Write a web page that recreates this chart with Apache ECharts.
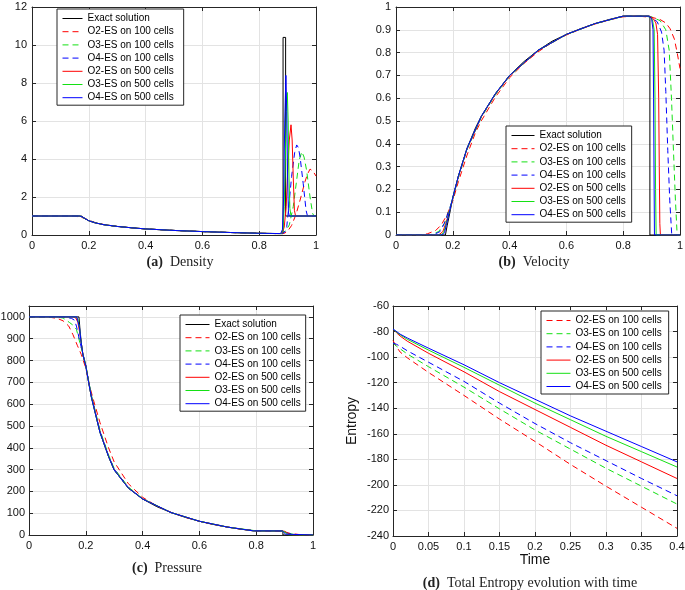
<!DOCTYPE html>
<html><head><meta charset="utf-8">
<script src="https://cdn.jsdelivr.net/npm/echarts@6/dist/echarts.min.js"></script>
<style>html,body{margin:0;padding:0;background:#fff}#main{width:685px;height:590px}</style>
</head><body><div id="main"></div>
<script>
// ---------- legend names ----------
const seriesNames = ['Exact solution','O2-ES on 100 cells','O3-ES on 100 cells','O4-ES on 100 cells','O2-ES on 500 cells','O3-ES on 500 cells','O4-ES on 500 cells'];
const entropyNames = seriesNames.slice(1);

// ---------- (a) Density ----------
const densExact = [[0,1],[0.174,1],[0.18,0.93],[0.19,0.83],[0.2,0.75],[0.22,0.65],[0.25,0.55],[0.3,0.45],[0.35,0.38],[0.4,0.32],[0.5,0.24],[0.6,0.18],[0.7,0.13],[0.8,0.09],[0.884,0.07],[0.884,10.4],[0.893,10.4],[0.893,1],[1,1]];
const densO2_100 = [[0,1],[0.13,1],[0.15,0.99],[0.17,0.95],[0.19,0.85],[0.2,0.78],[0.22,0.67],[0.25,0.56],[0.3,0.45],[0.35,0.38],[0.4,0.32],[0.5,0.24],[0.6,0.18],[0.7,0.13],[0.8,0.09],[0.86,0.075],[0.88,0.08],[0.89,0.1],[0.9,0.2],[0.914,0.5],[0.93,1.1],[0.944,1.84],[0.961,2.8],[0.97,3.2],[0.979,3.47],[0.99,3.35],[1,3.1]];
const densO3_100 = [[0,1],[0.14,1],[0.16,0.99],[0.175,0.94],[0.19,0.84],[0.2,0.77],[0.22,0.66],[0.25,0.55],[0.3,0.45],[0.35,0.38],[0.4,0.32],[0.5,0.24],[0.6,0.18],[0.7,0.13],[0.8,0.09],[0.86,0.075],[0.88,0.08],[0.895,0.25],[0.906,0.53],[0.92,1.5],[0.932,2.9],[0.941,3.95],[0.95,4.38],[0.958,4.1],[0.967,3.4],[0.979,2.0],[0.988,1.14],[0.993,1.0],[1,1]];
const densO4_100 = [[0,1],[0.145,1],[0.165,0.99],[0.177,0.94],[0.19,0.84],[0.2,0.76],[0.22,0.66],[0.25,0.55],[0.3,0.45],[0.35,0.38],[0.4,0.32],[0.5,0.24],[0.6,0.18],[0.7,0.13],[0.8,0.09],[0.86,0.075],[0.88,0.08],[0.89,0.15],[0.897,0.44],[0.903,1.3],[0.914,3.07],[0.925,4.35],[0.932,4.74],[0.938,4.6],[0.944,4.1],[0.955,2.7],[0.965,1.3],[0.97,1.0],[1,1]];
const densO2_500 = [[0,1],[0.16,1],[0.17,0.98],[0.18,0.92],[0.19,0.83],[0.2,0.75],[0.22,0.65],[0.25,0.55],[0.3,0.45],[0.35,0.38],[0.4,0.32],[0.5,0.24],[0.6,0.18],[0.7,0.13],[0.8,0.09],[0.87,0.075],[0.88,0.1],[0.888,0.4],[0.895,1.5],[0.9,3.2],[0.906,5.0],[0.912,5.8],[0.916,5.0],[0.92,3.0],[0.924,1.3],[0.928,1.0],[1,1]];
const densO3_500 = [[0,1],[0.165,1],[0.173,0.98],[0.18,0.92],[0.19,0.83],[0.2,0.75],[0.22,0.65],[0.25,0.55],[0.3,0.45],[0.35,0.38],[0.4,0.32],[0.5,0.24],[0.6,0.18],[0.7,0.13],[0.8,0.09],[0.878,0.075],[0.884,0.3],[0.888,1.5],[0.892,4.0],[0.896,6.8],[0.899,7.5],[0.902,6.0],[0.905,3.0],[0.908,1.4],[0.912,1.0],[1,1]];
const densO4_500 = [[0,1],[0.168,1],[0.175,0.98],[0.18,0.93],[0.19,0.83],[0.2,0.75],[0.22,0.65],[0.25,0.55],[0.3,0.45],[0.35,0.38],[0.4,0.32],[0.5,0.24],[0.6,0.18],[0.7,0.13],[0.8,0.09],[0.876,0.075],[0.882,0.3],[0.886,2.0],[0.89,6.0],[0.894,8.4],[0.897,6.5],[0.9,3.0],[0.903,1.2],[0.906,1.0],[1,1]];

// ---------- (b) Velocity ----------
const velExact = [[0,0],[0.174,0],[0.18,0.04],[0.19,0.1],[0.2,0.165],[0.22,0.26],[0.25,0.38],[0.28,0.47],[0.3,0.52],[0.35,0.62],[0.4,0.70],[0.45,0.76],[0.5,0.81],[0.55,0.85],[0.6,0.88],[0.65,0.905],[0.7,0.927],[0.75,0.945],[0.8,0.96],[0.894,0.96],[0.894,0],[1,0]];
const velO2_100 = [[0,0],[0.08,0],[0.11,0.005],[0.14,0.02],[0.16,0.045],[0.18,0.09],[0.2,0.15],[0.22,0.235],[0.25,0.35],[0.28,0.45],[0.3,0.5],[0.35,0.605],[0.4,0.69],[0.45,0.752],[0.5,0.803],[0.55,0.845],[0.6,0.877],[0.65,0.903],[0.7,0.925],[0.75,0.943],[0.8,0.957],[0.85,0.96],[0.9,0.955],[0.93,0.945],[0.95,0.93],[0.965,0.905],[0.98,0.86],[0.99,0.8],[1,0.73]];
const velO3_100 = [[0,0],[0.12,0],[0.15,0.015],[0.17,0.05],[0.19,0.12],[0.2,0.16],[0.22,0.255],[0.25,0.375],[0.3,0.515],[0.35,0.615],[0.4,0.697],[0.5,0.808],[0.6,0.879],[0.7,0.926],[0.8,0.959],[0.86,0.96],[0.9,0.957],[0.93,0.94],[0.95,0.9],[0.962,0.81],[0.97,0.6],[0.977,0.37],[0.984,0.15],[0.99,0],[1,0]];
const velO4_100 = [[0,0],[0.13,0],[0.155,0.015],[0.17,0.05],[0.19,0.12],[0.2,0.16],[0.22,0.258],[0.25,0.378],[0.3,0.518],[0.35,0.618],[0.4,0.699],[0.5,0.809],[0.6,0.88],[0.7,0.927],[0.8,0.96],[0.88,0.96],[0.9,0.955],[0.92,0.935],[0.935,0.89],[0.944,0.81],[0.95,0.63],[0.957,0.37],[0.964,0.15],[0.971,0],[1,0]];
const velO2_500 = [[0,0],[0.15,0],[0.165,0.015],[0.175,0.05],[0.19,0.11],[0.2,0.16],[0.22,0.258],[0.25,0.378],[0.3,0.518],[0.35,0.618],[0.4,0.699],[0.5,0.809],[0.6,0.88],[0.7,0.927],[0.8,0.96],[0.89,0.96],[0.905,0.95],[0.915,0.93],[0.921,0.88],[0.925,0.6],[0.927,0.3],[0.929,0.05],[0.931,0],[1,0]];
const velO3_500 = [[0,0],[0.158,0],[0.168,0.012],[0.177,0.05],[0.19,0.11],[0.2,0.163],[0.22,0.259],[0.25,0.379],[0.3,0.519],[0.35,0.619],[0.4,0.7],[0.5,0.81],[0.6,0.88],[0.7,0.927],[0.8,0.96],[0.89,0.96],[0.903,0.945],[0.909,0.9],[0.912,0.6],[0.914,0.2],[0.916,0],[1,0]];
const velO4_500 = [[0,0],[0.163,0],[0.171,0.01],[0.178,0.05],[0.19,0.11],[0.2,0.165],[0.22,0.26],[0.25,0.38],[0.3,0.52],[0.35,0.62],[0.4,0.7],[0.5,0.81],[0.6,0.88],[0.7,0.927],[0.8,0.96],[0.89,0.96],[0.9,0.95],[0.905,0.9],[0.907,0.6],[0.909,0.2],[0.91,0],[1,0]];

// ---------- (c) Pressure ----------
const presExact = [[0,1000],[0.176,1000],[0.18,935],[0.185,872],[0.19,825],[0.2,775],[0.21,700],[0.22,630],[0.25,470],[0.28,360],[0.3,298],[0.35,215],[0.4,165],[0.45,130],[0.5,103],[0.55,81],[0.6,63],[0.65,48],[0.7,36],[0.75,26],[0.79,19],[0.894,18.6],[0.894,0.01],[1,0.01]];
const presO2_100 = [[0,1000],[0.06,999],[0.08,997],[0.1,993],[0.12,982],[0.14,958],[0.155,918],[0.17,870],[0.184,828],[0.2,765],[0.214,680],[0.23,605],[0.25,515],[0.28,400],[0.3,335],[0.35,235],[0.4,173],[0.45,133],[0.5,104],[0.55,81],[0.6,63],[0.65,48],[0.7,36],[0.75,26],[0.8,19.5],[0.85,18.5],[0.88,17],[0.9,13],[0.92,7],[0.95,2.5],[0.98,0.8],[1,0.3]];
const presO3_100 = [[0,1000],[0.1,999],[0.12,995],[0.143,974],[0.155,962],[0.167,943],[0.179,882],[0.19,830],[0.2,780],[0.21,708],[0.22,640],[0.25,480],[0.28,368],[0.3,305],[0.35,220],[0.4,167],[0.5,103],[0.6,63],[0.7,36],[0.8,19.2],[0.87,18.5],[0.89,17],[0.91,10],[0.93,3],[0.95,0.5],[1,0.01]];
const presO4_100 = [[0,1000],[0.13,999],[0.15,993],[0.16,985],[0.167,958],[0.176,905],[0.185,855],[0.2,778],[0.21,704],[0.22,635],[0.25,475],[0.28,364],[0.3,302],[0.35,218],[0.4,166],[0.5,103],[0.6,63],[0.7,36],[0.8,19],[0.88,18.5],[0.9,15],[0.915,7],[0.93,1.5],[0.95,0.1],[1,0.01]];
const presO2_500 = [[0,1000],[0.155,1000],[0.165,995],[0.172,975],[0.178,932],[0.185,872],[0.19,826],[0.2,776],[0.21,701],[0.22,632],[0.25,472],[0.28,361],[0.3,299],[0.35,216],[0.4,165],[0.5,103],[0.6,63],[0.7,36],[0.79,19],[0.89,18.6],[0.9,17],[0.91,10],[0.92,3],[0.93,0.5],[1,0.01]];
const presO3_500 = [[0,1000],[0.165,1000],[0.172,990],[0.177,955],[0.182,900],[0.19,825],[0.2,775],[0.21,700],[0.22,630],[0.25,470],[0.28,360],[0.3,298],[0.35,215],[0.4,165],[0.5,103],[0.6,63],[0.7,36],[0.79,19],[0.892,18.6],[0.9,14],[0.907,5],[0.915,0.5],[1,0.01]];
const presO4_500 = [[0,1000],[0.168,1000],[0.174,992],[0.178,950],[0.182,898],[0.19,825],[0.2,775],[0.21,700],[0.22,630],[0.25,470],[0.28,360],[0.3,298],[0.35,215],[0.4,165],[0.5,103],[0.6,63],[0.7,36],[0.79,19],[0.893,18.6],[0.898,13],[0.903,4],[0.91,0.3],[1,0.01]];

// ---------- (d) Entropy ----------
const timeVals = [0, 0.005, 0.01, 0.02, 0.05, 0.1, 0.15, 0.2, 0.25, 0.3, 0.35, 0.4];
const entO2_100 = [-87, -92, -96, -100.5, -112, -130, -148.5, -166, -184, -201, -217.5, -234];
const entO3_100 = [-89, -91.5, -93.5, -97.5, -107.5, -123.5, -140.5, -157, -172, -187, -201, -215];
const entO4_100 = [-89, -90, -91.5, -95, -104, -119, -136, -152, -167, -181, -195, -208.5];
const entO2_500 = [-78, -81, -83.5, -87.5, -97, -111.5, -127, -141, -155, -169, -182, -195];
const entO3_500 = [-78, -80.5, -82.5, -86, -94.5, -108, -122, -136, -149, -162, -174, -186];
const entO4_500 = [-78, -80, -82, -85, -93, -106, -120, -133, -146, -158, -170, -182];

// ---------- styling ----------
const FONT = "'Liberation Sans', Arial, sans-serif";
const SERIF = "'Liberation Serif', 'Times New Roman', serif";
const AX = '#262626';
const GRIDC = '#e3e3e3';
const RED = '#ff0000', GREEN = '#14e014', BLUE = '#0000ff';
const DASH = [6, 4];
const lineStyles = [
  {color:'#000', type:'solid'},
  {color:RED, type:DASH}, {color:GREEN, type:DASH}, {color:BLUE, type:DASH},
  {color:RED, type:'solid'}, {color:GREEN, type:'solid'}, {color:BLUE, type:'solid'}
];

const gridBase = {containLabel:false, outerBoundsMode:'none', show:false};
const grids = [
  Object.assign({left:32, top:7, width:284, height:228}, gridBase),
  Object.assign({left:396, top:7, width:284, height:228}, gridBase),
  Object.assign({left:29, top:306, width:284, height:229}, gridBase),
  Object.assign({left:393, top:306, width:284, height:230}, gridBase)
];

function fmt(v) { return String(+v.toFixed(4)); }

function axisPair(dim, gi, min, max, interval, extra) {
  const base = {type:'value', gridIndex:gi, min, max, interval,
    axisLine:{show:true, onZero:false, lineStyle:{color:AX, width:1}},
    axisTick:{show:true, inside:true, length:4, lineStyle:{color:AX}},
    splitLine:{show:false}, axisLabel:{show:false}};
  const main = Object.assign({}, base, {
    position: dim === 'x' ? 'bottom' : 'left',
    splitLine:{show:true, lineStyle:{color:GRIDC, width:1}},
    axisLabel:Object.assign({show:true, color:'#111', fontFamily:FONT, fontSize:11, margin:5, formatter:fmt}, (extra && extra.label) || {})
  }, (extra && extra.axis) || {});
  const other = Object.assign({}, base, {position: dim === 'x' ? 'top' : 'right'});
  return [main, other];
}

const xAxes = [].concat(
  axisPair('x', 0, 0, 1, 0.2),
  axisPair('x', 1, 0, 1, 0.2),
  axisPair('x', 2, 0, 1, 0.2),
  axisPair('x', 3, 0, 0.4, 0.05, {axis:{name:'Time', nameLocation:'middle', nameGap:17, nameTextStyle:{fontFamily:FONT, fontSize:14, color:'#111'}}})
);
const yAxes = [].concat(
  axisPair('y', 0, 0, 12, 2),
  axisPair('y', 1, 0, 1, 0.1),
  axisPair('y', 2, 0, 1050, 100, {label:{showMaxLabel:false, margin:4}}),
  axisPair('y', 3, -240, -60, 20, {label:{margin:4}, axis:{name:'Entropy', nameLocation:'middle', nameGap:34, nameTextStyle:{fontFamily:FONT, fontSize:14, color:'#111'}}})
);

function mk(gi, idx, data, nameList) {
  const st = lineStyles[idx];
  return {type:'line', name:(nameList||seriesNames)[nameList ? idx-1 : idx], xAxisIndex:2*gi, yAxisIndex:2*gi,
    data, symbol:'none', showSymbol:false, animation:false, clip:true,
    lineStyle:{color:st.color, width:1, type:st.type}, itemStyle:{color:st.color}};
}
function zipT(vals) { return timeVals.map((t, i) => [t, vals[i]]); }

const series = [
  mk(0,0,densExact), mk(0,1,densO2_100), mk(0,2,densO3_100), mk(0,3,densO4_100), mk(0,4,densO2_500), mk(0,5,densO3_500), mk(0,6,densO4_500),
  mk(1,0,velExact), mk(1,1,velO2_100), mk(1,2,velO3_100), mk(1,3,velO4_100), mk(1,4,velO2_500), mk(1,5,velO3_500), mk(1,6,velO4_500),
  mk(2,0,presExact), mk(2,1,presO2_100), mk(2,2,presO3_100), mk(2,3,presO4_100), mk(2,4,presO2_500), mk(2,5,presO3_500), mk(2,6,presO4_500),
  mk(3,1,zipT(entO2_100),entropyNames), mk(3,2,zipT(entO3_100),entropyNames), mk(3,3,zipT(entO4_100),entropyNames),
  mk(3,4,zipT(entO2_500),entropyNames), mk(3,5,zipT(entO3_500),entropyNames), mk(3,6,zipT(entO4_500),entropyNames)
];

function legend(left, top, data, iw, padR) {
  return {orient:'vertical', left, top, data, itemWidth:iw, itemHeight:11, itemGap:2.2,
    itemStyle:{color:'rgba(0,0,0,0)', borderColor:'rgba(0,0,0,0)', borderWidth:0, opacity:0},
    lineStyle:{width:1},
    padding:[4,padR,2,5], borderColor:AX, borderWidth:1, backgroundColor:'#fff', borderRadius:0,
    selectedMode:false, textStyle:{fontFamily:FONT, fontSize:10, color:'#000', lineHeight:11}};
}

function caption(x, y, tag, text) {
  return {type:'text', x, y, style:{text:'{b|' + tag + '}  ' + text, align:'center', verticalAlign:'middle',
    fontFamily:SERIF, fontSize:14, fill:'#222',
    rich:{b:{fontFamily:SERIF, fontSize:14, fontWeight:'bold', fill:'#222'}}}};
}

const option = {
  animation:false,
  backgroundColor:'#fff',
  grid:grids,
  xAxis:xAxes,
  yAxis:yAxes,
  legend:[
    legend(57, 9, seriesNames, 20, 10),
    legend(506, 126, seriesNames, 23, 6),
    legend(180, 315, seriesNames, 24, 5),
    legend(541, 311, entropyNames, 24, 7)
  ],
  series,
  graphic:[
    caption(180, 262, '(a)', 'Density'),
    caption(534, 262, '(b)', 'Velocity'),
    caption(167, 568, '(c)', 'Pressure'),
    caption(530, 583, '(d)', 'Total Entropy evolution with time')
  ]
};
const chart = echarts.init(document.getElementById('main'));
chart.setOption(option);
</script></body></html>
